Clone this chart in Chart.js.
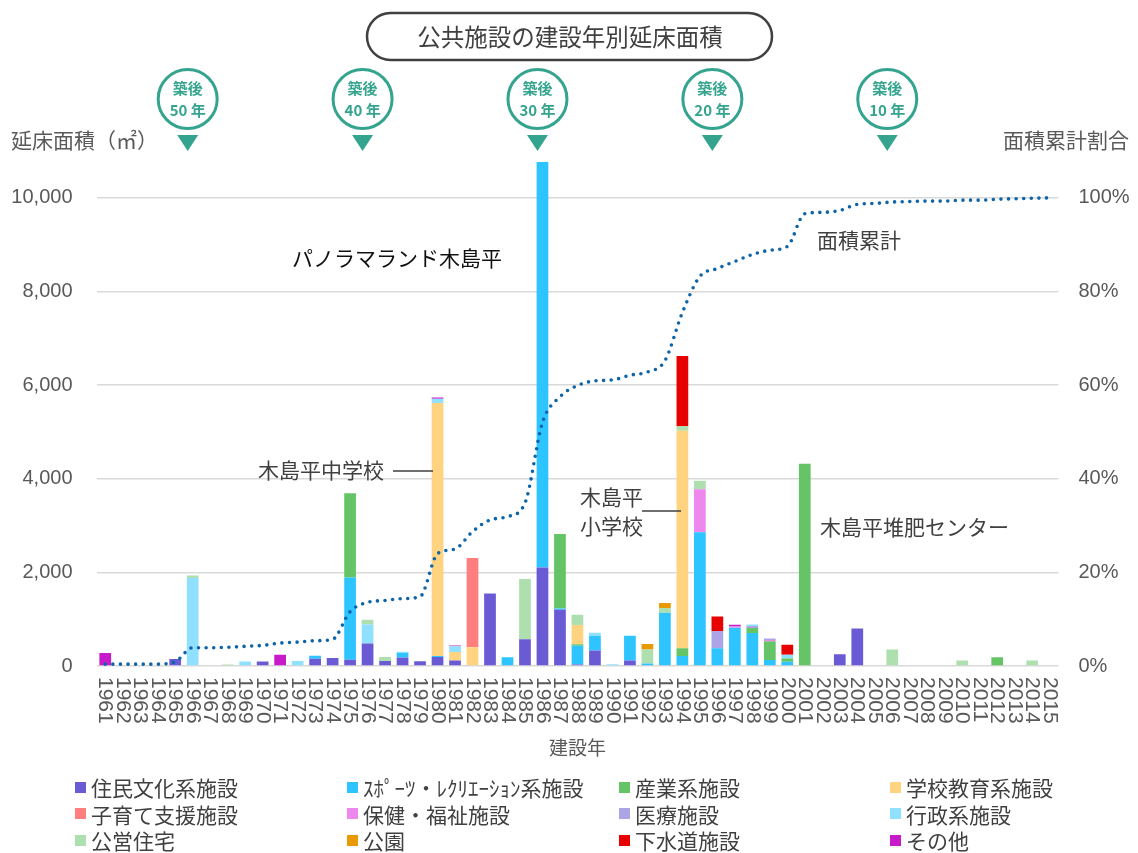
<!DOCTYPE html>
<html lang="ja">
<head>
<meta charset="utf-8">
<title>公共施設の建設年別延床面積</title>
<script src="https://cdn.jsdelivr.net/npm/chart.js@4/dist/chart.umd.min.js"></script>
<style>
  html, body { margin: 0; padding: 0; background: #fff; }
  #wrap { position: relative; width: 1138px; height: 853px; }
  #chart { position: absolute; left: 0; top: 0; }
  #legend {
    position: absolute; left: 75px; top: 774px;
    display: grid; grid-template-columns: 272px 272px 271px 248px;
    font-family: "Noto Sans CJK JP", sans-serif; font-size: 21px; color: #404040;
  }
  #legend .item { display: flex; align-items: center; height: 26.5px; white-space: nowrap; }
  #legend .box { width: 11px; height: 11px; margin-right: 5px; flex: none; }
</style>
</head>
<body>
<div id="wrap">
  <canvas id="chart" width="1138" height="853"></canvas>
  <div id="legend"></div>
</div>
<script>
// 建設年
const years = [
  '1961','1962','1963','1964','1965','1966','1967','1968','1969','1970',
  '1971','1972','1973','1974','1975','1976','1977','1978','1979','1980',
  '1981','1982','1983','1984','1985','1986','1987','1988','1989','1990',
  '1991','1992','1993','1994','1995','1996','1997','1998','1999','2000',
  '2001','2002','2003','2004','2005','2006','2007','2008','2009','2010',
  '2011','2012','2013','2014','2015'
];

// 延床面積（㎡） - one row per decade
const jumin = [
  0, 0, 0, 0, 150, 0, 0, 0, 0, 95,
  0, 0, 155, 170, 135, 480, 105, 180, 100, 190,
  120, 0, 1550, 0, 570, 2105, 1200, 30, 330, 0,
  120, 0, 0, 0, 0, 0, 0, 0, 0, 0,
  0, 0, 250, 800, 0, 0, 0, 0, 0, 0,
  0, 0, 0, 0, 0
];
const sports = [
  0, 0, 0, 0, 0, 0, 0, 0, 0, 0,
  0, 0, 65, 0, 1755, 0, 0, 105, 0, 25,
  0, 0, 0, 185, 0, 8660, 30, 400, 310, 0,
  525, 55, 1135, 215, 2855, 380, 815, 705, 130, 90,
  0, 0, 0, 0, 0, 0, 0, 0, 0, 0,
  0, 0, 0, 0, 0
];
const sangyo = [
  0, 0, 0, 0, 0, 0, 0, 0, 0, 0,
  0, 0, 0, 0, 1800, 0, 0, 0, 0, 0,
  0, 0, 0, 0, 0, 0, 1590, 35, 0, 0,
  0, 0, 0, 165, 0, 0, 0, 105, 400, 70,
  4320, 0, 0, 0, 0, 0, 0, 0, 0, 0,
  0, 185, 0, 0, 0
];
const gakko = [
  0, 0, 0, 0, 0, 0, 0, 0, 0, 0,
  0, 0, 0, 0, 0, 0, 0, 0, 0, 5400,
  180, 400, 0, 0, 0, 0, 0, 410, 0, 0,
  0, 0, 0, 4645, 0, 0, 0, 0, 0, 0,
  0, 0, 0, 0, 0, 0, 0, 0, 0, 0,
  0, 0, 0, 0, 0
];
const kosodate = [
  0, 0, 0, 0, 0, 0, 0, 0, 0, 0,
  0, 0, 0, 0, 0, 0, 0, 0, 0, 0,
  0, 1905, 0, 0, 0, 0, 0, 0, 0, 0,
  0, 0, 0, 0, 0, 0, 0, 0, 0, 0,
  0, 0, 0, 0, 0, 0, 0, 0, 0, 0,
  0, 0, 0, 0, 0
];
const hoken = [
  0, 0, 0, 0, 0, 0, 0, 0, 0, 0,
  0, 0, 0, 0, 0, 0, 0, 0, 0, 0,
  0, 0, 0, 0, 0, 0, 0, 0, 0, 0,
  0, 0, 0, 0, 920, 0, 30, 0, 25, 0,
  0, 0, 0, 0, 0, 0, 0, 0, 0, 0,
  0, 0, 0, 0, 0
];
const iryo = [
  0, 0, 0, 0, 0, 0, 0, 0, 0, 0,
  0, 0, 0, 0, 0, 0, 0, 0, 0, 0,
  0, 0, 0, 0, 0, 0, 0, 0, 0, 0,
  0, 0, 0, 0, 0, 365, 0, 45, 30, 0,
  0, 0, 0, 0, 0, 0, 0, 0, 0, 0,
  0, 0, 0, 0, 0
];
const gyosei = [
  0, 0, 0, 0, 0, 1880, 0, 0, 95, 0,
  0, 105, 0, 0, 0, 405, 0, 20, 0, 95,
  120, 0, 0, 0, 0, 0, 0, 0, 70, 35,
  0, 0, 0, 0, 0, 0, 0, 30, 0, 80,
  0, 0, 0, 0, 0, 0, 0, 0, 0, 0,
  0, 0, 0, 0, 0
];
const koei = [
  0, 0, 0, 0, 0, 55, 0, 30, 0, 0,
  0, 0, 0, 0, 0, 105, 85, 0, 0, 0,
  0, 0, 0, 0, 1290, 0, 0, 220, 0, 0,
  0, 300, 105, 95, 180, 0, 0, 0, 0, 0,
  0, 0, 0, 0, 0, 355, 0, 0, 0, 115,
  0, 0, 0, 115, 0
];
const koen = [
  0, 0, 0, 0, 0, 0, 0, 0, 0, 0,
  0, 0, 0, 0, 0, 0, 0, 0, 0, 0,
  0, 0, 0, 0, 0, 0, 0, 0, 0, 0,
  0, 115, 105, 0, 0, 0, 0, 0, 0, 0,
  0, 0, 0, 0, 0, 0, 0, 0, 0, 0,
  0, 0, 0, 0, 0
];
const gesuido = [
  0, 0, 0, 0, 0, 0, 0, 0, 0, 0,
  0, 0, 0, 0, 0, 0, 0, 0, 0, 0,
  0, 0, 0, 0, 0, 0, 0, 0, 0, 0,
  0, 0, 0, 1500, 0, 310, 0, 0, 0, 215,
  0, 0, 0, 0, 0, 0, 0, 0, 0, 0,
  0, 0, 0, 0, 0
];
const sonota = [
  280, 0, 0, 0, 0, 0, 0, 0, 0, 0,
  240, 0, 0, 0, 0, 0, 0, 0, 0, 25,
  20, 0, 0, 0, 0, 0, 0, 0, 0, 0,
  0, 0, 0, 0, 0, 0, 35, 0, 0, 0,
  0, 0, 0, 0, 0, 0, 0, 0, 0, 0,
  0, 0, 0, 0, 0
];

// 面積累計割合（%）
const cumulative = [
  0.4, 0.4, 0.4, 0.4, 0.9, 3.9, 3.9, 4.0, 4.2, 4.4,
  4.9, 5.1, 5.4, 5.7, 11.6, 13.6, 14.0, 14.4, 14.8, 24.0,
  25.0, 28.7, 31.2, 31.9, 34.8, 52.0, 57.5, 59.9, 60.9, 61.1,
  62.1, 62.8, 65.2, 75.5, 83.2, 84.9, 86.4, 87.9, 88.8, 89.6,
  96.6, 96.9, 97.3, 98.6, 98.8, 99.1, 99.2, 99.3, 99.3, 99.5,
  99.5, 99.7, 99.8, 99.9, 100
];

// axis ticks
const areaTicks = [0, 2000, 4000, 6000, 8000, 10000];
const shareTicks = [0, 20, 40, 60, 80, 100];

const categories = [
  '住民文化系施設', 'ｽﾎﾟｰﾂ・ﾚｸﾘｴｰｼｮﾝ系施設', '産業系施設', '学校教育系施設',
  '子育て支援施設', '保健・福祉施設', '医療施設', '行政系施設',
  '公営住宅', '公園', '下水道施設', 'その他'
];
const series = [jumin, sports, sangyo, gakko, kosodate, hoken, iryo, gyosei, koei, koen, gesuido, sonota];
const colors = [
  '#6A5AD4', '#2EC4FF', '#64C466', '#FFD37F',
  '#FF7F7F', '#EE88EE', '#ABA5E6', '#90E0FF',
  '#AEDFAE', '#E99A00', '#E60000', '#C71ACA'
];

// badges: 築後 N 年
const badgeYears = ['1966', '1976', '1986', '1996', '2006'];
const badgeAges = ['50', '40', '30', '20', '10'];

const JP = '"Noto Sans CJK JP", sans-serif';
const NUM = '"Liberation Sans", Arial, sans-serif';
const TEAL = '#34A48E';
const GREY = '#595959';

const datasets = series.map((data, i) => ({
  type: 'bar',
  label: categories[i],
  data: data,
  backgroundColor: colors[i],
  borderWidth: 0,
  barPercentage: 0.67,
  categoryPercentage: 1.0,
  yAxisID: 'y',
  order: 1
}));

datasets.push({
  type: 'line',
  label: '面積累計',
  data: cumulative,
  yAxisID: 'y1',
  borderColor: '#0D64A8',
  borderWidth: 3.6,
  borderDash: [0, 7.6],
  borderCapStyle: 'round',
  pointRadius: 0,
  fill: false,
  cubicInterpolationMode: 'monotone',
  order: 0
});

function text(ctx, str, x, y, font, color, align) {
  ctx.font = font;
  ctx.fillStyle = color;
  ctx.textAlign = align || 'left';
  ctx.textBaseline = 'middle';
  ctx.fillText(str, x, y);
}

const decor = {
  id: 'decor',
  afterDraw(chart) {
    const ctx = chart.ctx;
    const xs = chart.scales.x;
    const area = chart.chartArea;
    ctx.save();

    // year labels, rotated to read downward
    ctx.font = '21px ' + NUM;
    ctx.fillStyle = GREY;
    ctx.textAlign = 'left';
    ctx.textBaseline = 'middle';
    years.forEach((y, i) => {
      ctx.save();
      ctx.translate(xs.getPixelForValue(i), 677);
      ctx.rotate(Math.PI / 2);
      ctx.fillText(y, 0, 0);
      ctx.restore();
    });

    // axis titles
    text(ctx, '建設年', (area.left + area.right) / 2, 748, '19px ' + JP, GREY, 'center');
    text(ctx, '延床面積（㎡）', 11, 140, '21px ' + JP, GREY, 'left');
    text(ctx, '面積累計割合', 1129, 140, '21px ' + JP, GREY, 'right');

    // title box
    ctx.beginPath();
    ctx.roundRect(367, 13, 405, 47, 23.5);
    ctx.lineWidth = 2.5;
    ctx.strokeStyle = '#404040';
    ctx.stroke();
    text(ctx, '公共施設の建設年別延床面積', 570, 37, '23.5px ' + JP, '#404040', 'center');

    // badges
    badgeYears.forEach((yr, i) => {
      const cx = xs.getPixelForValue(years.indexOf(yr)) - 5;
      ctx.beginPath();
      ctx.arc(cx, 99, 29.5, 0, Math.PI * 2);
      ctx.fillStyle = '#fff';
      ctx.fill();
      ctx.lineWidth = 3;
      ctx.strokeStyle = TEAL;
      ctx.stroke();
      text(ctx, '築後', cx, 88, 'bold 15px ' + JP, TEAL, 'center');
      text(ctx, badgeAges[i] + ' 年', cx, 110, 'bold 15px ' + JP, TEAL, 'center');
      ctx.beginPath();
      ctx.moveTo(cx - 10.5, 135);
      ctx.lineTo(cx + 10.5, 135);
      ctx.lineTo(cx, 151);
      ctx.closePath();
      ctx.fillStyle = TEAL;
      ctx.fill();
    });

    // annotations
    text(ctx, 'パノラマランド木島平', 292, 258, '21px ' + JP, '#111', 'left');
    text(ctx, '面積累計', 817, 240, '21px ' + JP, '#404040', 'left');
    text(ctx, '木島平中学校', 258, 470, '21px ' + JP, '#404040', 'left');
    text(ctx, '木島平', 580, 497, '21px ' + JP, '#404040', 'left');
    text(ctx, '小学校', 580, 526, '21px ' + JP, '#404040', 'left');
    text(ctx, '木島平堆肥センター', 820, 527, '21px ' + JP, '#404040', 'left');
    ctx.strokeStyle = '#404040';
    ctx.lineWidth = 1.5;
    ctx.beginPath();
    ctx.moveTo(393, 471); ctx.lineTo(433, 471);
    ctx.moveTo(642, 511); ctx.lineTo(681, 511);
    ctx.stroke();

    ctx.restore();
  }
};

new Chart(document.getElementById('chart'), {
  type: 'bar',
  data: { labels: years, datasets: datasets },
  options: {
    responsive: false,
    animation: false,
    layout: { padding: { top: 151, left: 0, right: 0, bottom: 0 } },
    plugins: { legend: { display: false }, tooltip: { enabled: false } },
    scales: {
      x: {
        stacked: true,
        grid: { display: false },
        border: { display: false },
        ticks: { display: false },
        afterFit: s => { s.height = 187; }
      },
      y: {
        type: 'linear',
        position: 'left',
        stacked: true,
        min: 0,
        max: 11000,
        border: { display: false },
        grid: { color: '#D9D9D9', lineWidth: 1.5, drawTicks: false },
        ticks: {
          autoSkip: false,
          padding: 24,
          color: GREY,
          font: { size: 20, family: NUM },
          callback: v => v.toLocaleString('en-US')
        },
        afterBuildTicks: s => { s.ticks = areaTicks.map(v => ({ value: v })); },
        afterFit: s => { s.width = 96.5; }
      },
      y1: {
        type: 'linear',
        position: 'right',
        min: 0,
        max: 110,
        border: { display: false },
        grid: { display: false, drawTicks: false },
        ticks: {
          autoSkip: false,
          padding: 20,
          color: GREY,
          font: { size: 20, family: NUM },
          callback: v => v + '%'
        },
        afterBuildTicks: s => { s.ticks = shareTicks.map(v => ({ value: v })); },
        afterFit: s => { s.width = 79.6; }
      }
    }
  },
  plugins: [decor]
});

// legend
const legend = document.getElementById('legend');
categories.forEach((name, i) => {
  const item = document.createElement('div');
  item.className = 'item';
  const box = document.createElement('span');
  box.className = 'box';
  box.style.background = colors[i];
  const label = document.createElement('span');
  label.textContent = name;
  item.appendChild(box);
  item.appendChild(label);
  legend.appendChild(item);
});
</script>
</body>
</html>
